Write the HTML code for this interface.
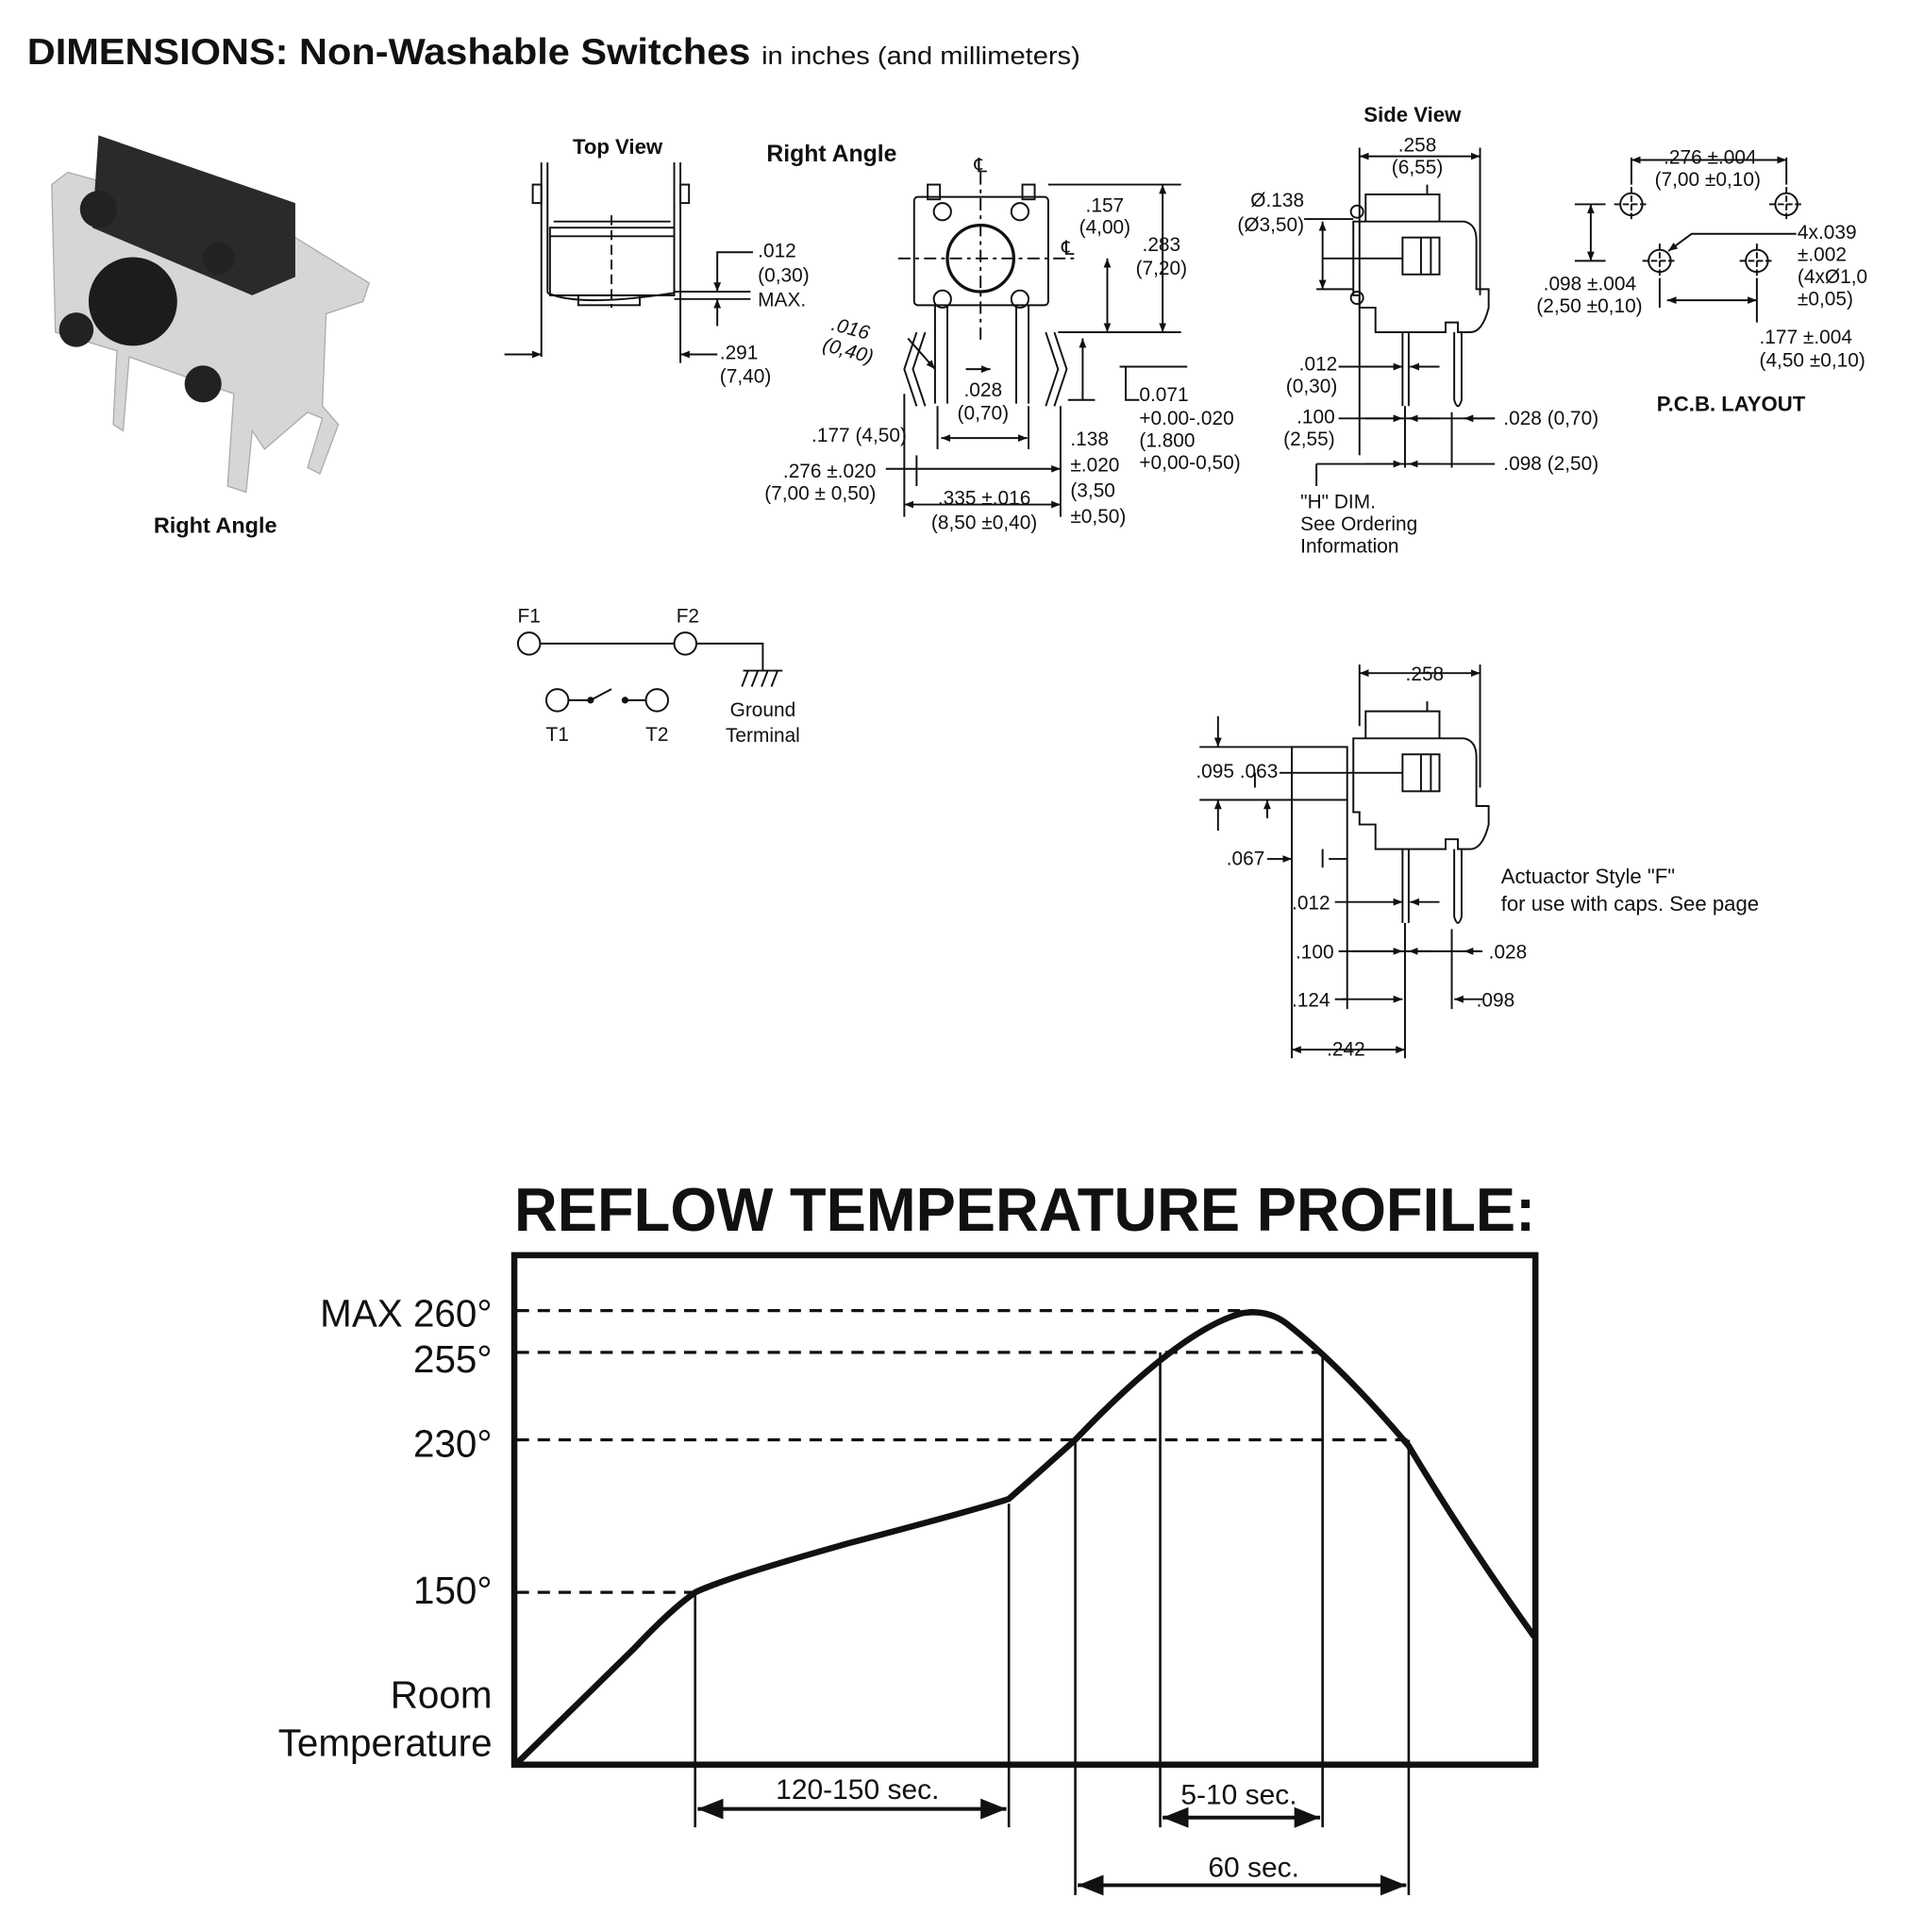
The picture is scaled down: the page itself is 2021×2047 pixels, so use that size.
<!DOCTYPE html>
<html><head><meta charset="utf-8"><style>
html,body{margin:0;padding:0;background:#fff}
svg{display:block}
text{font-family:"Liberation Sans",sans-serif;fill:#111}
.s{font-size:16px}
.b{font-weight:bold}
</style></head><body>
<svg width="2021" height="2047" viewBox="0 0 1550 1570" xmlns="http://www.w3.org/2000/svg">
<defs>
<marker id="a" viewBox="0 0 10 10" refX="10" refY="5" markerWidth="7" markerHeight="7" orient="auto-start-reverse"><path d="M0,1 L10,5 L0,9 z" fill="#111"/></marker>
<marker id="A" viewBox="0 0 10 10" refX="10" refY="5" markerWidth="5" markerHeight="5" orient="auto-start-reverse"><path d="M0,1 L10,5 L0,9 z" fill="#111"/></marker>
</defs>
<!-- title -->
<text x="22" y="52" style="font-size:30px;font-weight:bold" textLength="588" lengthAdjust="spacingAndGlyphs">DIMENSIONS: Non-Washable Switches</text>
<text x="619" y="52" style="font-size:20px" textLength="259" lengthAdjust="spacingAndGlyphs">in inches (and millimeters)</text>

<!-- photo -->
<g>
<polygon points="55,140 235,190 300,230 295,245 265,255 262,330 275,345 260,385 250,380 262,340 250,335 215,365 205,350 200,400 185,395 190,320 105,290 100,350 92,345 95,285 45,270 42,150" fill="#d6d6d6" stroke="#aaa"/>
<polygon points="80,110 240,165 240,225 205,240 75,185" fill="#2a2a2a"/>
<circle cx="108" cy="245" r="36" fill="#1c1c1c"/>
<circle cx="80" cy="170" r="15" fill="#222"/><circle cx="178" cy="210" r="13" fill="#222"/>
<circle cx="62" cy="268" r="14" fill="#222"/><circle cx="165" cy="312" r="15" fill="#222"/>
</g>
<text x="175" y="433" class="b" style="font-size:18px" text-anchor="middle">Right Angle</text>

<!-- headings -->
<text x="502" y="125" class="b" style="font-size:17px" text-anchor="middle">Top View</text>
<text x="676" y="131" class="b" style="font-size:19px" text-anchor="middle">Right Angle</text>
<text x="1148" y="99" class="b" style="font-size:17px" text-anchor="middle">Side View</text>
<text x="1407" y="334" class="b" style="font-size:17px" text-anchor="middle">P.C.B. LAYOUT</text>

<g fill="none" stroke="#111" stroke-width="1.5">
<!-- top view -->
<path d="M440,132 V290 M445,132 V238 M553,132 V295 M548,132 V238"/>
<rect x="433" y="150" width="7" height="15"/><rect x="553" y="150" width="7" height="15"/>
<rect x="447" y="185" width="101" height="55"/>
<path d="M447,192 H548 M450,180 H545 M445,238 Q470,250 548,238"/>
<rect x="470" y="240" width="50" height="8"/>
<path d="M497,175 V250" stroke-dasharray="8,4"/>
<path d="M410,288 H440" marker-end="url(#A)"/>
<path d="M583,288 H553" marker-end="url(#A)"/>
<path d="M612,205 H583 V237" marker-end="url(#A)"/>
<path d="M548,237 H610 M548,243 H610"/>
<path d="M583,265 V243" marker-end="url(#A)"/>

<!-- front view -->
<rect x="743" y="160" width="109" height="88" rx="3"/>
<rect x="754" y="150" width="10" height="12"/><rect x="831" y="150" width="10" height="12"/>
<circle cx="797" cy="210" r="27" stroke-width="2.5"/>
<circle cx="766" cy="172" r="7"/><circle cx="829" cy="172" r="7"/>
<circle cx="766" cy="243" r="7"/><circle cx="829" cy="243" r="7"/>
<path d="M730,210 H875 M797,140 V280" stroke-dasharray="10,4,3,4"/>
<path d="M760,248 V328 M770,248 V328 M826,248 V328 M836,248 V328"/>
<path d="M745,270 L735,300 L745,330 M752,270 L742,300 L752,330 M850,270 L860,300 L850,330 M857,270 L867,300 L857,330"/>
<path d="M852,150 H960 M860,270 H960 M910,298 H965 M868,325 H890"/>
<path d="M945,150 V270" marker-start="url(#A)" marker-end="url(#A)"/>
<path d="M900,210 V270" marker-start="url(#A)" marker-end="url(#A)"/>
<path d="M880,325 V275" marker-end="url(#A)"/>
<path d="M915,298 V325 H926"/>
<path d="M785,300 H805" marker-end="url(#A)"/>
<path d="M738,275 L760,300" marker-end="url(#A)"/>
<path d="M735,320 V420 M762,330 V365 M836,330 V365 M862,330 V420"/>
<path d="M765,356 H835" marker-start="url(#A)" marker-end="url(#A)"/>
<path d="M720,381 H862" marker-end="url(#A)"/><path d="M745,370 V395"/>
<path d="M735,410 H862" marker-start="url(#A)" marker-end="url(#A)"/>

<!-- side view -->
<path d="M1110,180 V158 H1170 V180 M1160,150 V158"/>
<path d="M1100,180 H1190 Q1200,182 1200,195 V235 H1210 V250 Q1205,270 1195,270 H1185 V262 H1175 V270 H1118 V250 H1105 V240 H1100 Z"/>
<rect x="1140" y="193" width="30" height="30"/>
<path d="M1075,210 H1140 M1155,193 V223 M1163,193 V223"/>
<circle cx="1103" cy="172" r="5"/><circle cx="1103" cy="242" r="5"/>
<path d="M1140,270 V330 M1145,270 V330 M1182,270 V325 Q1185,335 1188,325 V270"/>
<path d="M1105,120 V370 M1203,120 V240 M1142,330 V380 M1180,335 V380"/>
<path d="M1105,127 H1203" marker-start="url(#A)" marker-end="url(#A)"/>
<path d="M1060,178 H1100 M1070,235 H1100"/>
<path d="M1075,180 V235" marker-start="url(#A)" marker-end="url(#A)"/>
<path d="M1088,298 H1140" marker-end="url(#A)"/><path d="M1170,298 H1146" marker-end="url(#A)"/>
<path d="M1088,340 H1215"/>
<path d="M1110,340 H1140" marker-end="url(#A)"/><path d="M1170,340 H1145" marker-end="url(#A)"/>
<path d="M1215,340 H1190" marker-end="url(#A)"/>
<path d="M1070,377 H1215"/>
<path d="M1110,377 H1140" marker-end="url(#A)"/><path d="M1170,377 H1145" marker-end="url(#A)"/>
<path d="M1070,377 V395"/>

<!-- pcb -->
<g>
<circle cx="1326" cy="166" r="9"/><circle cx="1452" cy="166" r="9"/>
<circle cx="1349" cy="212" r="9"/><circle cx="1428" cy="212" r="9"/>
<path d="M1312,166 H1340 M1326,152 V180 M1438,166 H1466 M1452,152 V180 M1335,212 H1363 M1349,198 V226 M1414,212 H1442 M1428,198 V226" stroke-dasharray="5,2"/>
</g>
<path d="M1326,128 V150 M1452,128 V150"/>
<path d="M1326,130 H1452" marker-start="url(#A)" marker-end="url(#A)"/>
<path d="M1280,166 H1305 M1280,212 H1305"/>
<path d="M1293,166 V212" marker-start="url(#A)" marker-end="url(#A)"/>
<path d="M1460,190 H1375 L1356,204" marker-end="url(#A)"/>
<path d="M1349,226 V250 M1428,226 V262"/>
<path d="M1355,244 H1428" marker-start="url(#A)" marker-end="url(#A)"/>

<!-- schematic -->
<circle cx="430" cy="523" r="9"/><circle cx="557" cy="523" r="9"/>
<path d="M439,523 H548 M566,523 H620 V545 M604,545 H636 M608,545 L603,558 M616,545 L611,558 M624,545 L619,558 M632,545 L627,558"/>
<circle cx="453" cy="569" r="9"/><circle cx="534" cy="569" r="9"/>
<path d="M462,569 H480 L497,560 M508,569 H525"/>
<circle cx="480" cy="569" r="2" fill="#111"/><circle cx="508" cy="569" r="2" fill="#111"/>

<!-- second side view -->
<path d="M1110,600 V578 H1170 V600 M1160,570 V578"/>
<path d="M1100,600 H1190 Q1200,602 1200,615 V655 H1210 V670 Q1205,690 1195,690 H1185 V682 H1175 V690 H1118 V670 H1105 V660 H1100 Z"/>
<rect x="1050" y="607" width="45" height="43"/>
<rect x="1140" y="613" width="30" height="30"/>
<path d="M1040,628 H1140 M1155,613 V643 M1163,613 V643"/>
<path d="M1140,690 V750 M1145,690 V750 M1182,690 V745 Q1185,755 1188,745 V690"/>
<path d="M1105,540 V590 M1203,540 V640"/>
<path d="M1105,547 H1203" marker-start="url(#A)" marker-end="url(#A)"/>
<path d="M975,607 H1050 M975,650 H1050 M1020,628 V640"/>
<path d="M990,582 V607" marker-end="url(#A)"/><path d="M990,675 V650" marker-end="url(#A)"/>
<path d="M1030,665 V650" marker-end="url(#A)"/>
<path d="M1050,650 V860 M1075,690 V705 M1095,650 V820 M1142,750 V860 M1180,755 V820"/>
<path d="M1030,698 H1050" marker-end="url(#A)"/><path d="M1095,698 H1080"/>
<path d="M1085,733 H1140" marker-end="url(#A)"/><path d="M1170,733 H1146" marker-end="url(#A)"/>
<path d="M1088,773 H1200"/>
<path d="M1100,773 H1140" marker-end="url(#A)"/><path d="M1165,773 H1145" marker-end="url(#A)"/>
<path d="M1205,773 H1190" marker-end="url(#A)"/>
<path d="M1090,812 H1140" marker-end="url(#A)"/><path d="M1085,812 H1095" />
<path d="M1205,812 H1182" marker-end="url(#A)"/>
<path d="M1050,853 H1142" marker-start="url(#A)" marker-end="url(#A)"/>
</g>

<!-- labels top -->
<g class="s">
<text x="616" y="209" class="s">.012</text><text x="616" y="229" class="s">(0,30)</text><text x="616" y="249" class="s">MAX.</text>
<text x="585" y="292" class="s">.291</text><text x="585" y="311" class="s">(7,40)</text>
<text x="797" y="140" class="s" text-anchor="middle">℄</text><text x="868" y="207" class="s" text-anchor="middle">℄</text>
<text x="898" y="172" class="s" text-anchor="middle">.157</text><text x="898" y="190" class="s" text-anchor="middle">(4,00)</text>
<text x="944" y="204" class="s" text-anchor="middle">.283</text><text x="944" y="223" class="s" text-anchor="middle">(7,20)</text>
<text x="690" y="272" class="s" text-anchor="middle" transform="rotate(15 690 272)" font-style="italic">.016</text>
<text x="688" y="290" class="s" text-anchor="middle" transform="rotate(15 688 290)" font-style="italic">(0,40)</text>
<text x="799" y="322" class="s" text-anchor="middle">.028</text><text x="799" y="341" class="s" text-anchor="middle">(0,70)</text>
<text x="926" y="326" class="s">0.071</text><text x="926" y="345" class="s">+0.00-.020</text><text x="926" y="363" class="s">(1.800</text><text x="926" y="381" class="s">+0,00-0,50)</text>
<text x="737" y="359" class="s" text-anchor="end">.177 (4,50)</text>
<text x="870" y="362" class="s">.138</text><text x="870" y="383" class="s">±.020</text><text x="870" y="404" class="s">(3,50</text><text x="870" y="425" class="s">±0,50)</text>
<text x="712" y="388" class="s" text-anchor="end">.276 ±.020</text><text x="712" y="406" class="s" text-anchor="end">(7,00 ± 0,50)</text>
<text x="800" y="410" class="s" text-anchor="middle">.335 ±.016</text><text x="800" y="430" class="s" text-anchor="middle">(8,50 ±0,40)</text>
<text x="1152" y="123" class="s" text-anchor="middle">.258</text><text x="1152" y="141" class="s" text-anchor="middle">(6,55)</text>
<text x="1060" y="168" class="s" text-anchor="end">Ø.138</text><text x="1060" y="188" class="s" text-anchor="end">(Ø3,50)</text>
<text x="1087" y="301" class="s" text-anchor="end">.012</text><text x="1087" y="319" class="s" text-anchor="end">(0,30)</text>
<text x="1085" y="344" class="s" text-anchor="end">.100</text><text x="1085" y="362" class="s" text-anchor="end">(2,55)</text>
<text x="1222" y="345" class="s">.028 (0,70)</text><text x="1222" y="382" class="s">.098 (2,50)</text>
<text x="1057" y="413" class="s">"H" DIM.</text><text x="1057" y="431" class="s">See Ordering</text><text x="1057" y="449" class="s">Information</text>
<text x="1390" y="133" class="s" text-anchor="middle">.276 ±.004</text><text x="1388" y="151" class="s" text-anchor="middle">(7,00 ±0,10)</text>
<text x="1461" y="194" class="s">4x.039</text><text x="1461" y="212" class="s">±.002</text><text x="1461" y="230" class="s">(4xØ1,0</text><text x="1461" y="248" class="s">±0,05)</text>
<text x="1330" y="236" class="s" text-anchor="end">.098 ±.004</text><text x="1335" y="254" class="s" text-anchor="end">(2,50 ±0,10)</text>
<text x="1430" y="279" class="s">.177 ±.004</text><text x="1430" y="298" class="s">(4,50 ±0,10)</text>
<text x="430" y="506" class="s" text-anchor="middle">F1</text><text x="559" y="506" class="s" text-anchor="middle">F2</text>
<text x="453" y="602" class="s" text-anchor="middle">T1</text><text x="534" y="602" class="s" text-anchor="middle">T2</text>
<text x="620" y="582" class="s" text-anchor="middle">Ground</text><text x="620" y="603" class="s" text-anchor="middle">Terminal</text>
<text x="1158" y="553" class="s" text-anchor="middle">.258</text>
<text x="972" y="632" class="s">.095 .063</text>
<text x="1028" y="703" class="s" text-anchor="end">.067</text>
<text x="1050" y="739" class="s">.012</text><text x="1053" y="779" class="s">.100</text><text x="1050" y="818" class="s">.124</text>
<text x="1094" y="858" class="s" text-anchor="middle">.242</text>
<text x="1210" y="779" class="s">.028</text><text x="1200" y="818" class="s">.098</text>
<text x="1220" y="718" class="s" style="font-size:17px">Actuactor Style "F"</text><text x="1220" y="740" class="s" style="font-size:17px">for use with caps. See page</text>
</g>

<!-- reflow -->
<text x="418" y="1000" class="b" style="font-size:50px" textLength="830" lengthAdjust="spacingAndGlyphs">REFLOW TEMPERATURE PROFILE:</text>
<rect x="418" y="1020" width="830" height="414" fill="none" stroke="#111" stroke-width="5"/>
<g stroke="#111" stroke-width="2.5" stroke-dasharray="10,7" fill="none">
<path d="M420,1065 H1020 M420,1099 H1075 M420,1170 H1145 M420,1294 H565"/>
</g>
<g stroke="#111" stroke-width="2" fill="none">
<path d="M565,1294 V1485 M820,1222 V1485 M874,1170 V1540 M943,1099 V1485 M1075,1099 V1485 M1145,1170 V1540"/>
</g>
<path d="M420,1433 L515,1340 Q545,1308 565,1294 Q590,1282 690,1254 Q800,1225 820,1218 Q835,1205 874,1170 Q960,1080 1010,1067 Q1030,1064 1045,1075 Q1090,1110 1145,1175 Q1190,1250 1247,1330" fill="none" stroke="#111" stroke-width="5"/>
<g stroke="#111" stroke-width="3" fill="none">
<path d="M567,1470 H818" marker-start="url(#a)" marker-end="url(#a)"/>
<path d="M945,1477 H1073" marker-start="url(#a)" marker-end="url(#a)"/>
<path d="M876,1532 H1143" marker-start="url(#a)" marker-end="url(#a)"/>
</g>
<text x="697" y="1462" style="font-size:23px" text-anchor="middle">120-150 sec.</text>
<text x="1007" y="1466" style="font-size:23px" text-anchor="middle">5-10 sec.</text>
<text x="1019" y="1525" style="font-size:23px" text-anchor="middle">60 sec.</text>
<text x="400" y="1078" style="font-size:31px" text-anchor="end">MAX 260°</text>
<text x="400" y="1115" style="font-size:31px" text-anchor="end">255°</text>
<text x="400" y="1184" style="font-size:31px" text-anchor="end">230°</text>
<text x="400" y="1303" style="font-size:31px" text-anchor="end">150°</text>
<text x="400" y="1388" style="font-size:31px" text-anchor="end">Room</text>
<text x="400" y="1427" style="font-size:31px" text-anchor="end">Temperature</text>
</svg>
</body></html>
